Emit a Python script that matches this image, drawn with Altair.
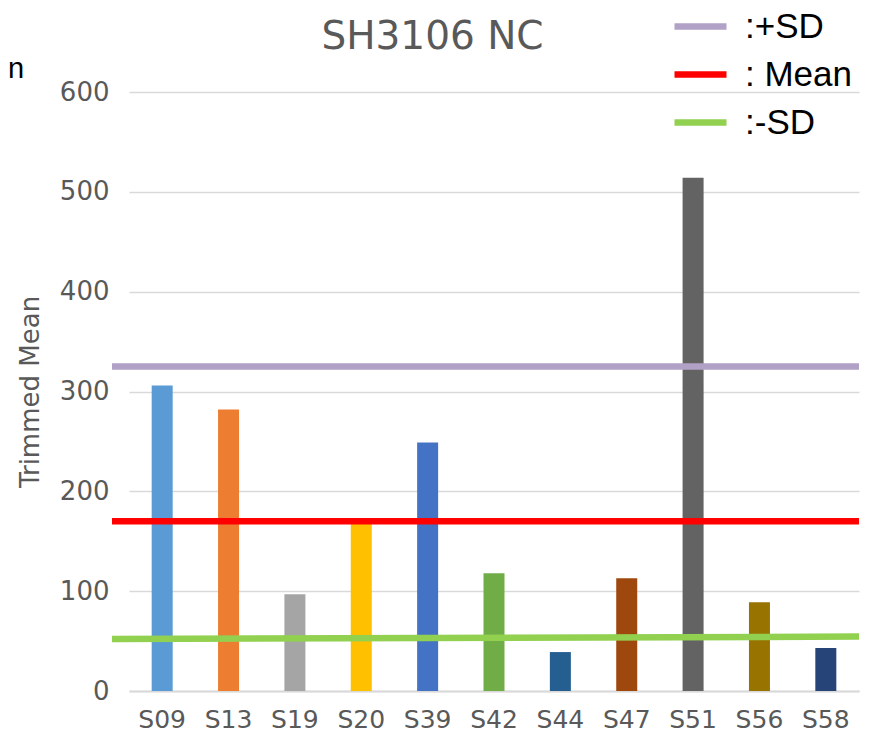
import altair as alt
import pandas as pd

categories = ["S09", "S13", "S19", "S20", "S39", "S42", "S44", "S47", "S51", "S56", "S58"]
values = [306, 282, 97, 168, 249, 118, 39, 113, 514, 89, 43]
bar_colors = ["#5B9BD5", "#ED7D31", "#A5A5A5", "#FFC000", "#4472C4", "#70AD47",
              "#255E91", "#9E480E", "#636363", "#997300", "#264478"]

line_names = [":+SD", ": Mean", ":-SD"]
line_start = [325, 170, 52]
line_end = [325, 170, 54.5]
line_colors = ["#B2A1C7", "#FF0000", "#92D050"]

y_ticks = [0, 100, 200, 300, 400, 500, 600]
chart_title = ["SH3106 NC"]

bars_df = pd.DataFrame({"sample": categories, "value": values})
lines_df = pd.DataFrame({"series": line_names, "y1": line_start, "y2": line_end})
clip_df = pd.DataFrame({"t": ["n"]})
title_df = pd.DataFrame({"t": chart_title})

W, H = 730, 599

bars = alt.Chart(bars_df).mark_bar(size=21).encode(
    x=alt.X("sample:N", sort=categories, title=None,
            scale=alt.Scale(paddingInner=0.68, paddingOuter=0.34),
            axis=alt.Axis(labelAngle=0, labelFontSize=25, labelColor="#595959",
                          labelFont="DejaVu Sans", labelPadding=16, ticks=False,
                          domainColor="#D9D9D9", domainWidth=2, grid=False)),
    y=alt.Y("value:Q", title="Trimmed Mean",
            scale=alt.Scale(domain=[0, 600], nice=False),
            axis=alt.Axis(values=y_ticks, labelFontSize=26, labelColor="#595959",
                          labelFont="DejaVu Sans", labelPadding=20, ticks=False,
                          domain=False, gridColor="#D9D9D9", gridWidth=1.5,
                          titleFontSize=26, titleFont="DejaVu Sans", titleColor="#595959",
                          titleFontWeight="normal", titlePadding=16)),
    fill=alt.Fill("sample:N", scale=alt.Scale(domain=categories, range=bar_colors), legend=None),
)

lines = alt.Chart(lines_df).mark_rule(strokeWidth=6.5).encode(
    x=alt.value(-17),
    x2=alt.value(W),
    y=alt.Y("y1:Q"),
    y2=alt.Y2("y2:Q"),
    stroke=alt.Stroke("series:N",
                      scale=alt.Scale(domain=line_names, range=line_colors),
                      sort=line_names,
                      legend=alt.Legend(title=None, orient="none", legendX=542, legendY=-95,
                                        symbolType="stroke", symbolSize=2704,
                                        symbolStrokeWidth=6.5, labelFontSize=35,
                                        labelFont="Liberation Sans", labelColor="#000000",
                                        labelOffset=15, rowPadding=-4, padding=0,
                                        labelLimit=300)),
)

clipped = alt.Chart(clip_df).mark_text(align="left", baseline="alphabetic", fontSize=29,
                                       font="Liberation Sans", color="#000000").encode(
    text="t:N", x=alt.value(-121), y=alt.value(-14)
)

title = alt.Chart(title_df).mark_text(align="center", baseline="alphabetic", fontSize=39,
                                      font="DejaVu Sans", color="#595959").encode(
    text="t:N", x=alt.value(303.5), y=alt.value(-43)
)

chart = alt.layer(bars, lines, clipped, title).resolve_scale(
    fill="independent", stroke="independent"
).properties(
    width=W, height=H,
    autosize=alt.AutoSizeParams(type="none"),
    padding={"left": 121, "top": 84, "right": 8, "bottom": 42},
).configure_view(stroke=None)

chart.save("out.html", embed_options={"renderer": "svg", "actions": False})
